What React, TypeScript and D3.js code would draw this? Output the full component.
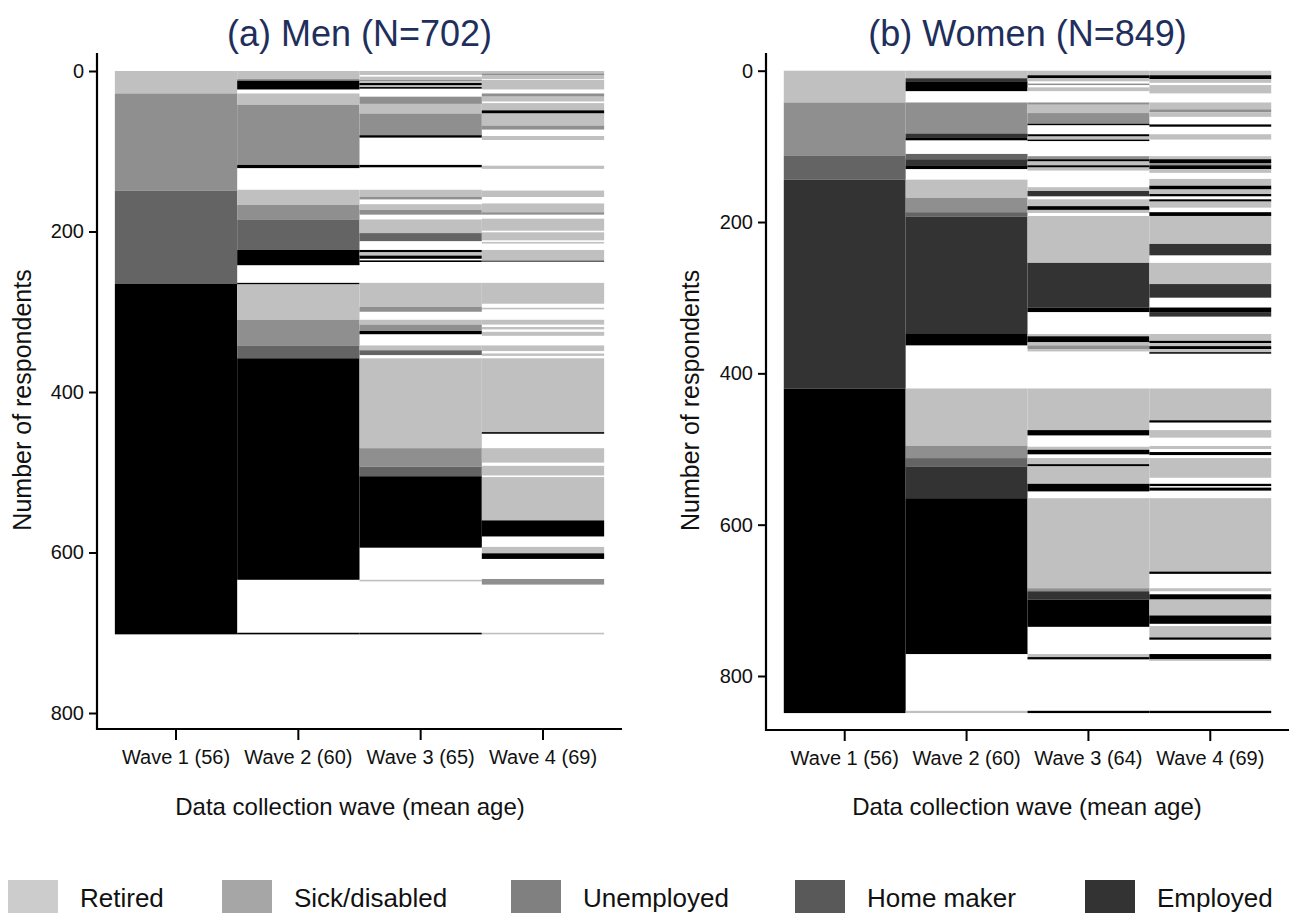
import { useEffect, useRef } from "react";
import * as d3 from "d3";

// state codes: R retired, S sick/disabled, U unemployed, H home maker, E employed, "-" no record
const stateCodes = ["R", "S", "U", "H", "E"];
const stateNames = ["Retired", "Sick/disabled", "Unemployed", "Home maker", "Employed"];
const stateColors = ["#c0c0c0", "#8f8f8f", "#646464", "#333333", "#000000"];
const legendColors = ["#cccccc", "#a6a6a6", "#808080", "#595959", "#333333"];

const menWaveLabels = ["Wave 1 (56)", "Wave 2 (60)", "Wave 3 (65)", "Wave 4 (69)"];
const womenWaveLabels = ["Wave 1 (56)", "Wave 2 (60)", "Wave 3 (64)", "Wave 4 (69)"];
const yTicks = [0, 200, 400, 600, 800];

// each run = [state, row where the run ends]; rows are sorted respondents
const menWave1: [string, number][] = [["R", 28], ["S", 149], ["U", 265], ["E", 702]];
const menWave2: [string, number][] = [
  ["R", 10], ["S", 12], ["E", 23], ["-", 28], ["R", 42], ["S", 117], ["E", 121], ["-", 148],
  ["R", 167], ["S", 185], ["U", 223], ["E", 242], ["-", 264], ["E", 266], ["R", 310], ["S", 342],
  ["U", 358], ["E", 634], ["-", 700], ["E", 702],
];
const menWave3: [string, number][] = [
  ["R", 5], ["-", 7], ["R", 11], ["S", 13], ["R", 15], ["E", 18], ["R", 20], ["E", 22], ["-", 32],
  ["S", 41], ["R", 53], ["S", 80], ["E", 83], ["-", 117], ["E", 120], ["-", 148], ["R", 157],
  ["S", 160], ["-", 166], ["R", 173], ["S", 179], ["-", 185], ["R", 202], ["U", 212], ["-", 223],
  ["E", 226], ["R", 230], ["E", 234], ["-", 236], ["E", 238], ["-", 264], ["R", 294], ["S", 300],
  ["-", 310], ["R", 316], ["S", 324], ["E", 328], ["-", 342], ["R", 348], ["U", 354], ["-", 358],
  ["R", 470], ["S", 493], ["U", 505], ["E", 594], ["-", 634], ["R", 636], ["-", 700], ["E", 702],
];
const menWave4: [string, number][] = [
  ["R", 3], ["S", 5], ["R", 10], ["-", 11], ["R", 23], ["-", 28], ["S", 32], ["R", 38], ["-", 40],
  ["R", 49], ["E", 53], ["R", 68], ["S", 73], ["-", 81], ["R", 86], ["-", 118], ["R", 122],
  ["-", 149], ["R", 157], ["-", 165], ["R", 176], ["S", 179], ["-", 184], ["R", 199], ["-", 201],
  ["R", 211], ["-", 213], ["R", 215], ["-", 223], ["R", 236], ["U", 238], ["-", 264], ["R", 290],
  ["-", 295], ["R", 297], ["-", 310], ["R", 316], ["-", 319], ["R", 322], ["-", 325], ["R", 330],
  ["-", 342], ["R", 349], ["-", 352], ["R", 355], ["-", 358], ["R", 450], ["E", 452], ["-", 470],
  ["R", 488], ["-", 492], ["R", 504], ["-", 506], ["R", 560], ["E", 580], ["-", 593], ["R", 601],
  ["E", 608], ["-", 633], ["S", 640], ["-", 700], ["R", 702],
];

const womenWave1: [string, number][] = [["R", 42], ["S", 112], ["U", 144], ["H", 420], ["E", 849]];
const womenWave2: [string, number][] = [
  ["R", 10], ["H", 14], ["E", 27], ["-", 42], ["S", 83], ["H", 88], ["E", 92], ["-", 110],
  ["U", 117], ["H", 125], ["E", 130], ["-", 144], ["R", 168], ["S", 187], ["U", 193], ["H", 347],
  ["E", 363], ["-", 420], ["R", 496], ["S", 512], ["U", 523], ["H", 565], ["E", 771], ["-", 846],
  ["R", 849],
];
const womenWave3: [string, number][] = [
  ["R", 6], ["E", 10], ["R", 14], ["-", 17], ["S", 19], ["-", 22], ["R", 27], ["-", 42], ["S", 45],
  ["R", 56], ["S", 70], ["E", 72], ["-", 84], ["E", 87], ["R", 91], ["E", 93], ["-", 113],
  ["S", 117], ["E", 120], ["R", 125], ["E", 128], ["R", 132], ["-", 154], ["R", 159], ["H", 166],
  ["-", 170], ["R", 179], ["E", 184], ["R", 188], ["-", 192], ["R", 254], ["H", 313], ["E", 319],
  ["-", 348], ["R", 351], ["E", 359], ["R", 363], ["S", 368], ["R", 371], ["-", 420], ["R", 475],
  ["E", 482], ["-", 497], ["R", 501], ["E", 507], ["-", 512], ["R", 520], ["E", 523], ["R", 546],
  ["E", 556], ["-", 565], ["R", 684], ["S", 688], ["H", 699], ["E", 735], ["-", 771], ["R", 775],
  ["E", 778], ["-", 846], ["E", 849],
];
const womenWave4: [string, number][] = [
  ["R", 6], ["E", 11], ["R", 16], ["-", 19], ["R", 30], ["-", 42], ["R", 51], ["S", 55], ["R", 61],
  ["-", 71], ["E", 74], ["-", 84], ["R", 91], ["-", 113], ["R", 117], ["E", 122], ["S", 125],
  ["E", 130], ["R", 135], ["-", 143], ["R", 152], ["E", 157], ["R", 163], ["E", 166], ["-", 170],
  ["E", 173], ["R", 181], ["-", 187], ["E", 192], ["R", 229], ["H", 244], ["-", 254], ["R", 282],
  ["H", 300], ["-", 313], ["E", 319], ["H", 325], ["-", 348], ["R", 357], ["E", 360], ["R", 364],
  ["E", 368], ["R", 372], ["E", 374], ["-", 420], ["R", 462], ["E", 465], ["-", 475], ["R", 485],
  ["-", 496], ["R", 500], ["-", 504], ["E", 508], ["-", 512], ["R", 538], ["-", 546], ["E", 549],
  ["-", 551], ["E", 555], ["-", 565], ["R", 662], ["E", 665], ["-", 684], ["R", 688], ["-", 692],
  ["E", 699], ["R", 720], ["E", 731], ["-", 734], ["R", 749], ["E", 752], ["-", 771], ["E", 778],
  ["R", 780], ["-", 846], ["E", 849],
];

type Panel = {
  title: string;
  waves: [string, number][][];
  labels: string[];
  xRange: [number, number];
  yRange: [number, number];
  axisLeft: number;
  axisBottom: number;
  yLabelX: number;
  xTitleX: number;
};

const panels: Panel[] = [
  {
    title: "(a) Men (N=702)",
    waves: [menWave1, menWave2, menWave3, menWave4],
    labels: menWaveLabels,
    xRange: [97, 622],
    yRange: [71, 713],
    axisLeft: 97,
    axisBottom: 729,
    yLabelX: 22,
    xTitleX: 350,
  },
  {
    title: "(b) Women (N=849)",
    waves: [womenWave1, womenWave2, womenWave3, womenWave4],
    labels: womenWaveLabels,
    xRange: [766, 1289],
    yRange: [70.7, 676],
    axisLeft: 766,
    axisBottom: 730,
    yLabelX: 690,
    xTitleX: 1027,
  },
];

const font = "'Liberation Sans', Arial, sans-serif";

export default function App() {
  const svgRef = useRef<SVGSVGElement | null>(null);

  useEffect(() => {
    const svg = d3.select(svgRef.current);
    svg.selectAll("*").remove();

    const color = d3.scaleOrdinal<string, string>().domain(stateCodes).range(stateColors);

    panels.forEach((p) => {
      const g = svg.append("g");
      const x = d3
        .scaleBand<string>()
        .domain(p.labels)
        .range(p.xRange)
        .paddingInner(0)
        .paddingOuter(0.146);
      const y = d3.scaleLinear().domain([0, 800]).range(p.yRange);

      // sequence bars
      p.waves.forEach((runs, i) => {
        let start = 0;
        const segs = runs.map(([code, end]) => {
          const s = { code, start, end };
          start = end;
          return s;
        });
        g.append("g")
          .selectAll("rect")
          .data(segs.filter((s) => s.code !== "-"))
          .join("rect")
          .attr("x", x(p.labels[i])!)
          .attr("width", x.bandwidth())
          .attr("y", (d) => y(d.start))
          .attr("height", (d) => y(d.end) - y(d.start))
          .attr("fill", (d) => color(d.code));
      });

      // y axis
      const yAxis = g
        .append("g")
        .attr("transform", `translate(${p.axisLeft},0)`)
        .call(d3.axisLeft(y).tickValues(yTicks).tickSize(8).tickPadding(5));
      yAxis.select(".domain").remove();
      yAxis.selectAll("line").attr("stroke", "#000").attr("stroke-width", 2);
      yAxis
        .selectAll("text")
        .attr("font-family", font)
        .attr("font-size", 20)
        .attr("fill", "#111");
      g.append("line")
        .attr("x1", p.axisLeft)
        .attr("x2", p.axisLeft)
        .attr("y1", 53)
        .attr("y2", p.axisBottom + 1)
        .attr("stroke", "#000")
        .attr("stroke-width", 2.2);

      // x axis
      const xAxis = g
        .append("g")
        .attr("transform", `translate(0,${p.axisBottom})`)
        .call(d3.axisBottom(x).tickSize(11).tickPadding(10));
      xAxis.select(".domain").remove();
      xAxis.selectAll("line").attr("stroke", "#000").attr("stroke-width", 2);
      xAxis
        .selectAll("text")
        .attr("font-family", font)
        .attr("font-size", 20)
        .attr("fill", "#111");
      g.append("line")
        .attr("x1", p.axisLeft - 1)
        .attr("x2", p.xRange[1])
        .attr("y1", p.axisBottom)
        .attr("y2", p.axisBottom)
        .attr("stroke", "#000")
        .attr("stroke-width", 2.2);

      // titles
      const mid = (p.xRange[0] + p.xRange[1]) / 2;
      g.append("text")
        .attr("x", mid)
        .attr("y", 46)
        .attr("text-anchor", "middle")
        .attr("font-family", font)
        .attr("font-size", 36)
        .attr("fill", "#1f2f5c")
        .text(p.title);
      g.append("text")
        .attr("x", p.xTitleX)
        .attr("y", 815)
        .attr("text-anchor", "middle")
        .attr("font-family", font)
        .attr("font-size", 24)
        .attr("fill", "#111")
        .text("Data collection wave (mean age)");
      g.append("text")
        .attr("transform", `translate(${p.yLabelX},${(p.yRange[0] + p.axisBottom) / 2}) rotate(-90)`)
        .attr("text-anchor", "middle")
        .attr("dominant-baseline", "central")
        .attr("font-family", font)
        .attr("font-size", 25)
        .attr("fill", "#111")
        .text("Number of respondents");
    });

    // legend
    const legendX = [8, 222, 511, 795, 1085];
    const legend = svg
      .append("g")
      .selectAll("g")
      .data(stateNames)
      .join("g")
      .attr("transform", (_, i) => `translate(${legendX[i]},880)`);
    legend
      .append("rect")
      .attr("width", 50)
      .attr("height", 36)
      .attr("fill", (_, i) => legendColors[i]);
    legend
      .append("text")
      .attr("x", 72)
      .attr("y", 27)
      .attr("font-family", font)
      .attr("font-size", 26)
      .attr("fill", "#111")
      .text((d) => d);
  }, []);

  return (
    <svg
      ref={svgRef}
      width={1289}
      height={913}
      style={{ position: "absolute", left: 0, top: 0, background: "#fff" }}
    />
  );
}
